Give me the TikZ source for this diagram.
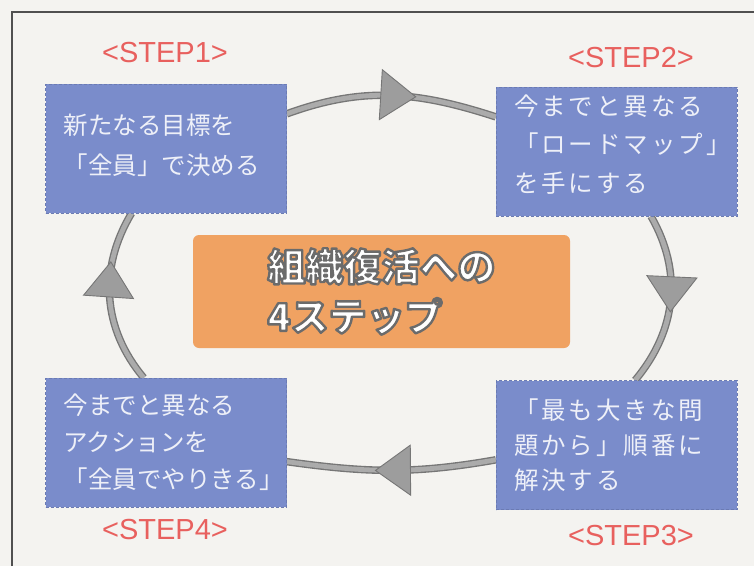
\documentclass[tikz,border=0pt]{standalone}
\usepackage{fontspec}
\setmainfont{Liberation Sans}
\newfontfamily\jp{Noto Sans CJK JP}
\newfontfamily\jpwide[LetterSpace=12]{Noto Sans CJK JP}
\usetikzlibrary{decorations.markings,backgrounds}
\hfuzz=300pt
\hbadness=10000
\definecolor{boxblue}{HTML}{7A8CCB}
\definecolor{boxtext}{HTML}{EEF0F8}
\definecolor{titleorange}{HTML}{F0A262}
\definecolor{stepred}{HTML}{E8605E}
\definecolor{paper}{HTML}{F4F3F0}
\definecolor{ringdark}{HTML}{767676}
\definecolor{ringlight}{HTML}{ABABAB}
\definecolor{framegray}{HTML}{505050}
\newcommand{\outlinetext}{\special{pdf:literal direct 2.4 w 0.42 0.42 0.42 RG 1 j 2 Tr}}
\begin{document}
\begin{tikzpicture}[x=1pt,y=1pt,
  stepbox/.style={fill=boxblue, draw=boxblue!88!black, line width=0.5pt, densely dashed,
    text=boxtext, align=left, text width=205pt, inner xsep=18pt, inner ysep=0pt,
    minimum width=241pt, minimum height=129pt},
  steplabel/.style={text=stepred, font=\fontsize{29}{30}\selectfont, inner sep=0pt},
  ring/.style={line width=7.5pt, draw=ringdark,
    postaction={draw=ringlight, line width=4.8pt},
    postaction={decorate, decoration={markings, mark=at position #1 with {
      \filldraw[fill=ringlight!92!black, draw=ringdark, line width=0.9pt, solid]
        (18pt,0) -- (-17pt,25pt) -- (-17pt,-25pt) -- cycle;}}}},
  ring/.default=0.5
]
\useasboundingbox (0,0) rectangle (754,566);
% boxes
\node[stepbox, font=\jp\fontsize{24.5}{40}\selectfont] (b1) at (166,417.5)
  {新たなる目標を\\「全員」で決める\rule[-8pt]{0pt}{1pt}};
\node[stepbox, font=\jpwide\fontsize{24.5}{38.5}\selectfont] (b2) at (616.5,414.5)
  {今までと異なる\\「ロードマップ」\\を手にする\rule[-16pt]{0pt}{1pt}};
\node[stepbox, font=\jpwide\fontsize{24.5}{35}\selectfont] (b3) at (616.5,121)
  {「最も大きな問\\題から」順番に\\解決する};
\node[stepbox, font=\jp\fontsize{24.5}{37}\selectfont] (b4) at (166,123.5)
  {今までと異なる\\アクションを\\「全員でやりきる」};
% title
\node[fill=titleorange, rounded corners=6pt, minimum width=377pt, minimum height=113pt,
  align=left, text=white, font=\jp\bfseries\fontsize{38}{50}\selectfont] (t) at (381.5,274.5)
  {\outlinetext 組織復活への\\4ステップ};
% labels
\node[steplabel] (s1) at (165,513) {<STEP1>};
\node[steplabel] (s2) at (631,508) {<STEP2>};
\node[steplabel] (s3) at (631,30) {<STEP3>};
\node[steplabel] (s4) at (165,36) {<STEP4>};
\begin{scope}[on background layer]
  \fill[paper] (0,0) rectangle (754,566);
  \draw[framegray, line width=1.1pt] (12,0) -- (12,554) -- (754,554);
  \draw[ring=0.53] (b1.16.5) to[out=20, in=162] (b2.164);
  \draw[ring=0.46] (b2.-62.5) to[out=-60, in=50] (b3.74.9);
  \draw[ring=0.49] (b3.187.6) to[out=190, in=-8] (b4.-9.7);
  \draw[ring=0.6] (b4.109.6) to[out=130, in=-121] (b1.242.9);
\end{scope}
\end{tikzpicture}
\end{document}
